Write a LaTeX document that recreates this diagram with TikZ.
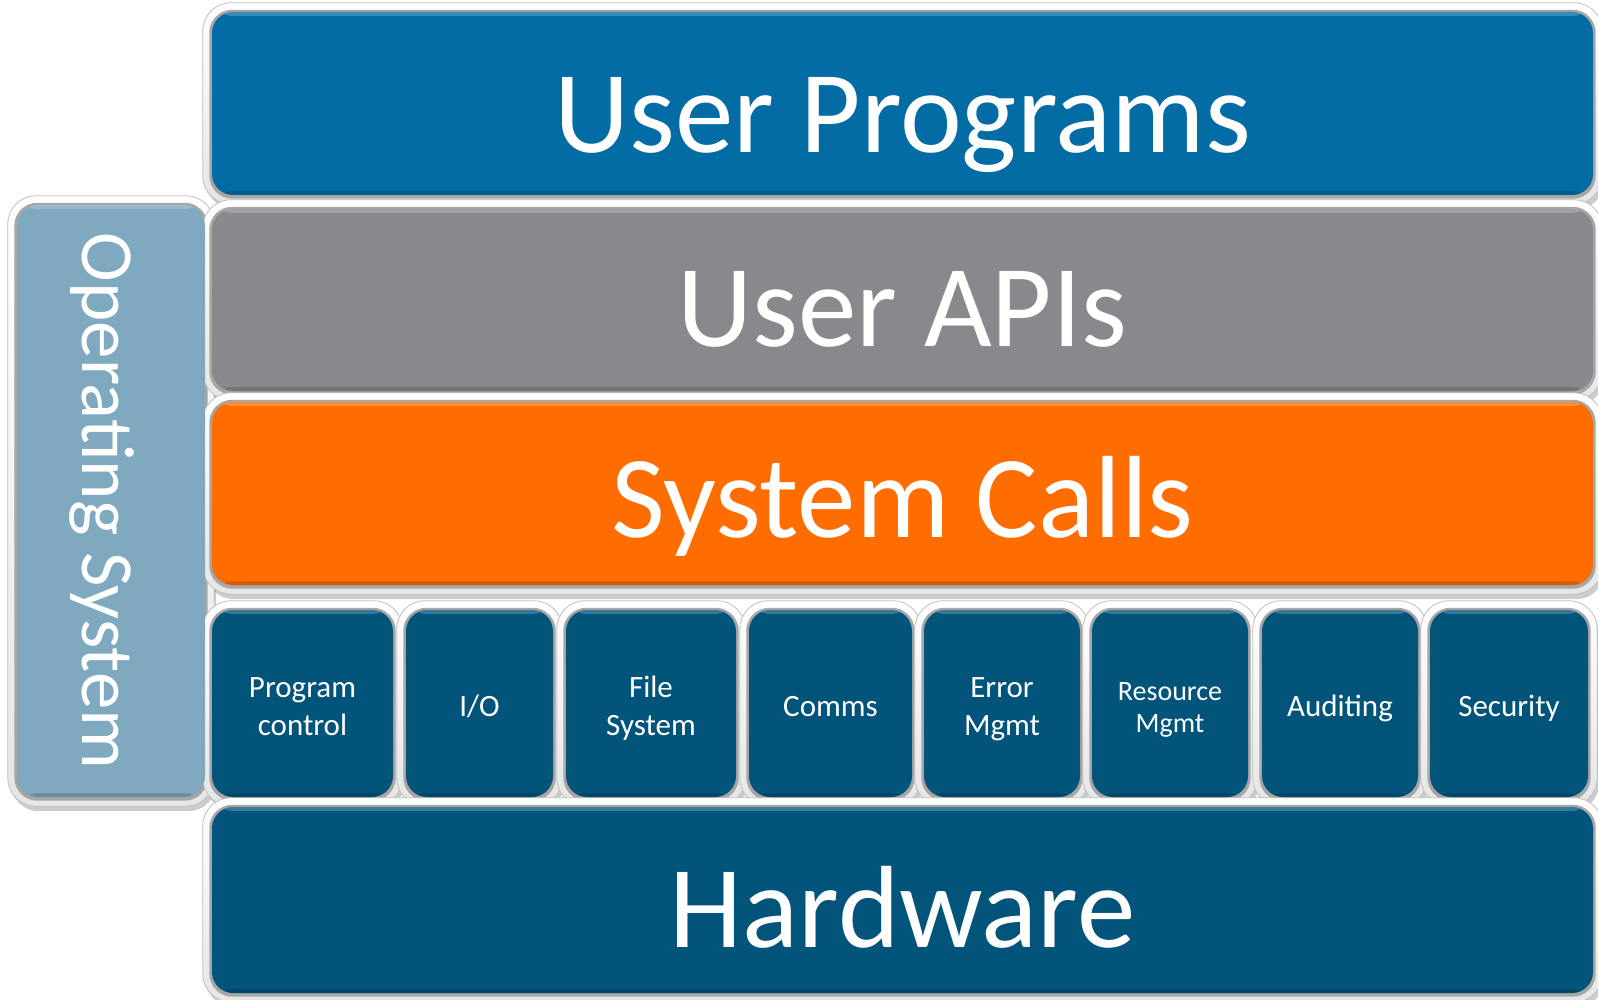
\documentclass[tikz,border=0pt]{standalone}
\usepackage{fontspec}
\setmainfont{Carlito}
\usepackage{graphicx}

\definecolor{upblue}{HTML}{036CA4}
\definecolor{apigray}{HTML}{89888D}
\definecolor{scorange}{HTML}{FF6D00}
\definecolor{dkblue}{HTML}{02547A}
\definecolor{osblue}{HTML}{7EA9BF}

\pgfdeclarelayer{bg}
\pgfdeclarelayer{shadows}
\pgfdeclarelayer{rims}
\pgfsetlayers{bg,shadows,rims,main}

% struts that keep every small label on the same baselines
\newcommand\HiStrut{\rule{0pt}{34pt}}
\newcommand\LoStrut{\rule[-9pt]{0pt}{9pt}}

\tikzset{
  panel/.style={rectangle, rounded corners=21pt, inner sep=0pt, text=white,
    path picture={
      \fill[white, opacity=.22] (path picture bounding box.north west) rectangle ([yshift=-4pt]path picture bounding box.north east);
      \fill[black, opacity=.15] ([yshift=4pt]path picture bounding box.south west) rectangle (path picture bounding box.south east);
    }},
  layer/.style={panel, minimum width=1381, font=\fontsize{117}{140}\selectfont, text depth=0pt},
  cell/.style={panel, fill=dkblue, align=center, minimum height=187, font=\fontsize{31}{38}\selectfont},
  rim/.style={draw=black!25, line width=0.8pt, top color=white, bottom color=black!10, rounded corners=28pt},
  ring/.style={fill=black!35, rounded corners=23pt},
  dropshade/.style={fill=black, opacity=.2, rounded corners=28pt},
}

% bevelled white frame and soft shadow behind a panel node
\newcommand\panelframe[1]{%
  \begin{pgfonlayer}{shadows}
    \fill[dropshade] ([xshift=-6pt,yshift=4pt]#1.north west) rectangle ([xshift=11pt,yshift=-14pt]#1.south east);
  \end{pgfonlayer}
  \begin{pgfonlayer}{rims}
    \path[rim] ([xshift=-9pt,yshift=9pt]#1.north west) rectangle ([xshift=9pt,yshift=-9pt]#1.south east);
    \fill[ring] ([xshift=-2.5pt,yshift=2pt]#1.north west) rectangle ([xshift=2.5pt,yshift=-3.5pt]#1.south east);
  \end{pgfonlayer}}

\begin{document}
\begin{tikzpicture}[x=1pt, y=-1pt]
  \useasboundingbox (0,0) rectangle (1598,1000);
  \begin{pgfonlayer}{bg}
    \fill[white] (0,0) rectangle (1598,1000);
  \end{pgfonlayer}

  % side bar
  \node[panel, fill=osblue, minimum width=188, minimum height=592,
        font=\fontsize{75}{90}\selectfont] (os) at (111,501)
        {\rotatebox{-90}{\smash{Operating System}\rule{0pt}{58pt}}};
  \panelframe{os}

  % full-width layers
  \node[layer, fill=upblue, minimum height=183, text height=99pt] (up) at (902.5,103.5) {User Programs};
  \panelframe{up}
  \node[layer, fill=apigray, minimum height=182, text height=92pt] (api) at (902.5,300) {User APIs};
  \panelframe{api}
  \node[layer, fill=scorange, minimum height=183, text height=88pt] (sc) at (902.5,493.5) {System Calls};
  \panelframe{sc}

  % system call categories
  \node[cell, minimum width=181] (pc) at (302.5,703.5) {\HiStrut Program\\control\LoStrut};
  \panelframe{pc}
  \node[cell, minimum width=147] (io) at (479.5,703.5) {\HiStrut I/O\LoStrut};
  \panelframe{io}
  \node[cell, minimum width=170] (fs) at (651,703.5) {\HiStrut File\\System\LoStrut};
  \panelframe{fs}
  \node[cell, minimum width=163] (cm) at (830.5,703.5) {\HiStrut Comms\LoStrut};
  \panelframe{cm}
  \node[cell, minimum width=156] (em) at (1002,703.5) {\HiStrut Error\\Mgmt\LoStrut};
  \panelframe{em}
  \node[cell, minimum width=156, font=\fontsize{28}{32}\selectfont] (rm) at (1170,703.5) {\HiStrut Resource\\Mgmt\LoStrut};
  \panelframe{rm}
  \node[cell, minimum width=156] (au) at (1340,703.5) {\HiStrut Auditing\LoStrut};
  \panelframe{au}
  \node[cell, minimum width=158] (se) at (1509,703.5) {\HiStrut Security\LoStrut};
  \panelframe{se}

  % bottom layer
  \node[layer, fill=dkblue, minimum height=186, text height=94pt] (hw) at (902.5,900) {Hardware};
  \panelframe{hw}
\end{tikzpicture}
\end{document}
